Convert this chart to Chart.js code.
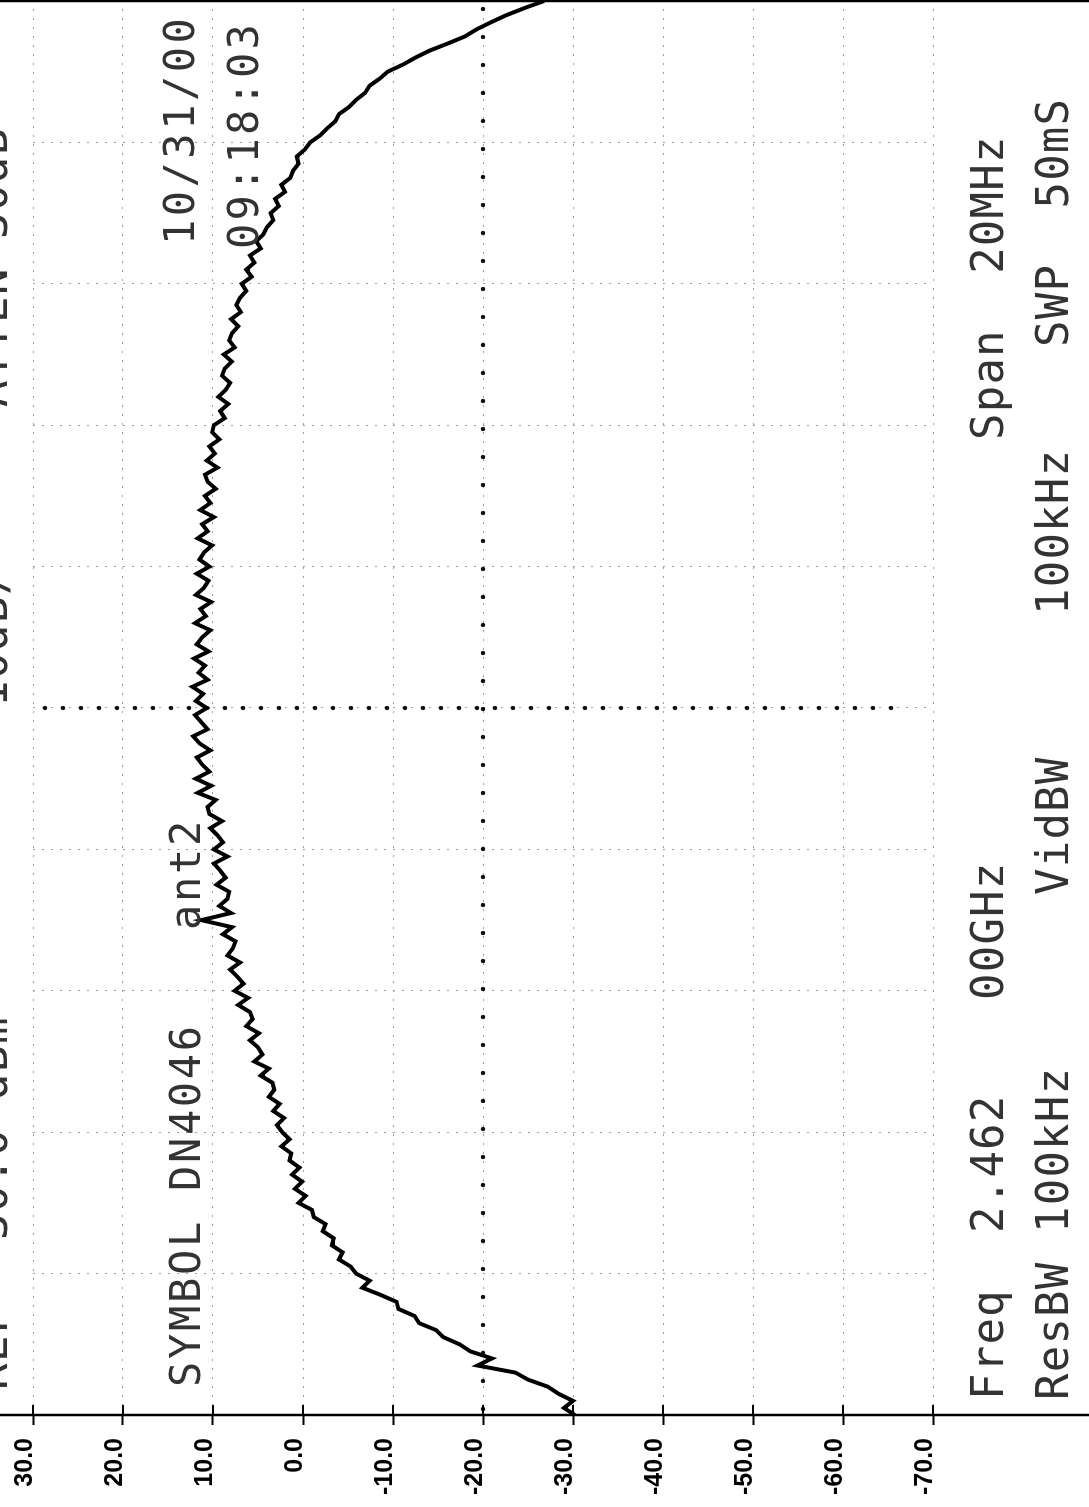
<!DOCTYPE html>
<html>
<head>
<meta charset="utf-8">
<title>DN4046 ant2 spectrum</title>
<script src="https://cdn.jsdelivr.net/npm/chart.js@4.4.1/dist/chart.umd.min.js"></script>
<style>
  html, body { margin: 0; padding: 0; background: #fff; overflow: hidden; }
  #wrap { position: relative; width: 1089px; height: 1507px; overflow: hidden; }
  /* the analyzer printout is turned on its side, so the canvas is drawn upright and rotated */
  #chart { position: absolute; left: 0; top: 0; transform-origin: 0 0; transform: translateY(1507px) rotate(-90deg); }
</style>
</head>
<body>
<div id="wrap"><canvas id="chart" width="1507" height="1089"></canvas></div>
<script>
// Sweep settings (MHz)
const centerFreq = 2462;
const spanFreq = 20;

// Level ticks (dBm)
const levelTicks = [30, 20, 10, 0, -10, -20, -30, -40, -50, -60, -70];

// Trace, 201 sweep points from left to right
const traceDb = [
  -30.2, -29.0, -30.0, -28.4, -27.2, -25.0, -23.6, -19.4, -21.0, -18.6,
  -17.4, -15.6, -14.8, -12.9, -12.4, -10.6, -10.4, -8.6, -6.6, -7.4,
  -5.9, -5.3, -4.0, -4.4, -3.2, -3.4, -2.2, -2.5, -1.2, -1.0,
  0.5, -0.3, 0.9, 0.1, 1.2, 0.4, 1.5, 1.3, 2.4, 1.5,
  2.3, 2.9, 2.1, 3.3, 2.6, 3.8, 3.2, 3.4, 4.7, 3.8,
  5.4, 4.5, 5.0, 5.9, 4.9, 6.3, 5.6, 5.9, 7.2, 6.1,
  7.6, 6.6, 7.3, 8.1, 7.0, 8.4, 7.8, 7.5, 8.9, 7.9,
  11.3, 8.0, 9.3, 8.4, 8.2, 9.6, 8.6, 9.2, 9.9, 8.4,
  9.9, 8.9, 9.5, 10.3, 9.0, 10.4, 10.6, 9.7, 11.7, 10.2,
  11.9, 10.4, 11.2, 11.8, 10.3, 11.5, 12.2, 10.6, 11.3, 12.0,
  10.7, 11.9, 11.1, 12.3, 10.6, 11.6, 10.9, 12.1, 10.5, 11.8,
  11.2, 10.3, 12.0, 10.8, 11.4, 10.2, 11.9, 11.0, 10.5, 11.8,
  10.4, 11.5, 11.0, 10.1, 11.7, 10.6, 11.2, 9.9, 11.4, 10.3,
  10.9, 9.7, 10.6, 10.9, 9.5, 10.7, 9.8, 10.4, 9.3, 10.1,
  9.9, 8.7, 9.2, 8.3, 9.4, 8.6, 8.1, 9.0, 8.7, 7.9,
  8.8, 7.6, 8.2, 7.9, 7.2, 8.0, 6.9, 7.4, 7.0, 6.3,
  6.8, 5.7, 6.3, 5.4, 5.9, 4.7, 5.2, 4.4, 4.0, 3.3,
  3.6, 2.7, 3.1, 2.0, 2.4, 1.4, 1.1, 0.5, 0.7, -0.2,
  -0.8, -1.9, -2.7, -3.6, -4.0, -5.1, -5.9, -6.9, -7.4, -8.5,
  -9.4, -11.1, -12.5, -14.1, -16.1, -18.0, -19.3, -20.9, -22.6, -24.6,
  -26.8
];

// Printout annotations
const headerTexts = ['REF', '30.0 dBm', '10dB/', 'ATTEN 30dB'];
const titleTexts = ['SYMBOL DN4046', 'ant2'];
const stampTexts = ['10/31/00', '09:18:03'];
const footerLine1 = ['Freq', '2.462', '00GHz', 'Span  20MHz'];
const footerLine2 = ['ResBW', '100kHz', 'VidBW', '100kHz', 'SWP  50mS'];

const startFreq = centerFreq - spanFreq / 2;
const stopFreq = centerFreq + spanFreq / 2;
const sweepFreqs = traceDb.map((_, i) => startFreq + i * spanFreq / (traceDb.length - 1));

// Draws a row of round dots between two points
function dottedLine(ctx, x1, y1, x2, y2, gap, r) {
  const len = Math.hypot(x2 - x1, y2 - y1);
  const n = Math.floor(len / gap);
  for (let k = 0; k <= n; k++) {
    const t = k * gap / len;
    ctx.beginPath();
    ctx.arc(x1 + (x2 - x1) * t, y1 + (y2 - y1) * t, r, 0, Math.PI * 2);
    ctx.fill();
  }
}

// Frame, centre graticule and the printed text
const printoutPlugin = {
  id: 'printout',
  beforeDatasetsDraw(chart) {
    const { ctx, chartArea, scales } = chart;
    ctx.save();
    ctx.fillStyle = '#111';
    const cx = scales.x.getPixelForValue(centerFreq);
    dottedLine(ctx, cx, chartArea.top + 12, cx, chartArea.bottom - 33, 18, 2.2);
    const my = scales.y.getPixelForValue(-20);
    dottedLine(ctx, chartArea.left + 6, my, chartArea.right, my, 28, 2.2);
    ctx.restore();
  },
  afterDraw(chart) {
    const { ctx, chartArea, scales, height } = chart;
    ctx.save();
    ctx.strokeStyle = '#000';
    ctx.lineWidth = 2.5;
    ctx.beginPath();
    ctx.moveTo(chartArea.left, 0);
    ctx.lineTo(chartArea.left, height);
    ctx.moveTo(chartArea.right, 0);
    ctx.lineTo(chartArea.right, height);
    ctx.stroke();
    // inner half of the level ticks
    ctx.lineWidth = 2;
    levelTicks.forEach(v => {
      const y = scales.y.getPixelForValue(v);
      ctx.beginPath();
      ctx.moveTo(chartArea.left, y);
      ctx.lineTo(chartArea.left + 10, y);
      ctx.stroke();
    });

    ctx.fillStyle = '#333';
    ctx.textAlign = 'left';
    ctx.textBaseline = 'alphabetic';
    const put = (text, x, y, size, spacing) => {
      ctx.font = size + 'px "DejaVu Sans Mono"';
      ctx.letterSpacing = spacing + 'px';
      ctx.fillText(text, x, y);
    };
    put(headerTexts[0], 117, 7, 44, 1.5);
    put(headerTexts[1], 267, 7, 44, 1.5);
    put(headerTexts[2], 800, 7, 44, 1.5);
    put(headerTexts[3], 1100, 7, 44, 1.5);
    put(titleTexts[0], 120, 200, 42, 2.7);
    put(titleTexts[1], 577, 200, 42, 2.7);
    put(stampTexts[0], 1262, 194, 42, 3.5);
    put(stampTexts[1], 1258, 258, 42, 3.2);
    put(footerLine1[0], 107, 1003, 44, 1.2);
    put(footerLine1[1], 274, 1003, 44, 1.2);
    put(footerLine1[2], 507, 1003, 44, 1.2);
    put(footerLine1[3], 1067, 1003, 44, 1.2);
    put(footerLine2[0], 107, 1068, 44, 1.2);
    put(footerLine2[1], 274, 1068, 44, 1.2);
    put(footerLine2[2], 612, 1068, 44, 1.2);
    put(footerLine2[3], 892, 1068, 44, 1.2);
    put(footerLine2[4], 1160, 1068, 44, 1.2);
    ctx.restore();
  }
};

const chart = new Chart(document.getElementById('chart'), {
  type: 'line',
  data: {
    datasets: [{
      data: sweepFreqs.map((f, i) => ({ x: f, y: traceDb[i] })),
      borderColor: '#000',
      borderWidth: 4,
      pointRadius: 0,
      tension: 0,
      fill: false
    }]
  },
  options: {
    responsive: false,
    animation: false,
    devicePixelRatio: 1,
    layout: { padding: { top: 33, right: 1, bottom: 0, left: 0 } },
    plugins: {
      legend: { display: false },
      tooltip: { enabled: false }
    },
    scales: {
      x: {
        type: 'linear',
        min: startFreq,
        max: stopFreq,
        ticks: { display: false, stepSize: 2 },
        grid: { color: '#a0a0a0', lineWidth: 1, drawTicks: false },
        border: { display: false, dash: [2, 7] },
        afterFit(scale) { scale.height = 156; }
      },
      y: {
        min: -70,
        max: 30,
        afterBuildTicks(scale) { scale.ticks = levelTicks.map(v => ({ value: v })); },
        ticks: {
          callback: v => v.toFixed(1),
          color: '#000',
          font: { family: 'Liberation Sans', weight: 'bold', size: 25 },
          padding: 13,
          labelOffset: -8
        },
        grid: {
          color: '#a0a0a0',
          lineWidth: 1,
          tickLength: 10,
          tickColor: '#000',
          tickWidth: 2,
          tickBorderDash: []
        },
        border: { display: false, dash: [2, 7] },
        afterFit(scale) { scale.width = 92; }
      }
    }
  },
  plugins: [printoutPlugin]
});
</script>
</body>
</html>
